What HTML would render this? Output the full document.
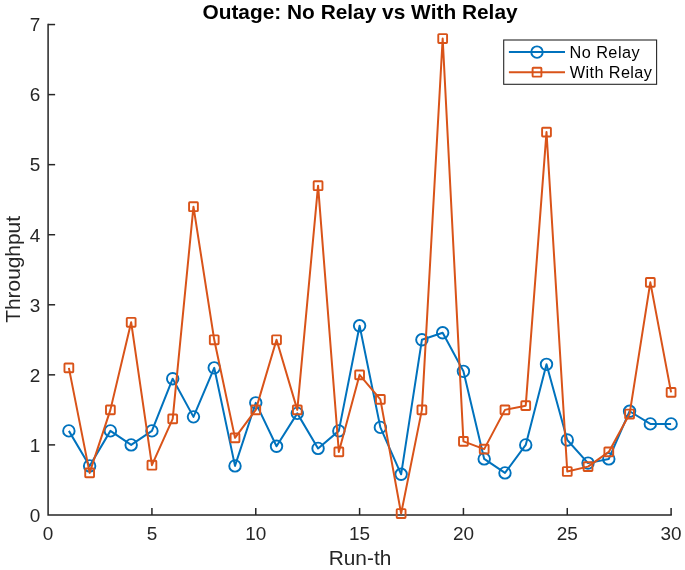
<!DOCTYPE html>
<html lang="en"><head><meta charset="utf-8"><title>Outage: No Relay vs With Relay</title>
<style>html,body{margin:0;padding:0;background:#fff}svg{display:block}text{font-family:"Liberation Sans",sans-serif;fill:#262626}</style></head><body>
<svg width="685" height="570" viewBox="0 0 685 570">
<rect width="685" height="570" fill="#fff"/>
<g stroke="#262626" stroke-width="1.50" fill="none">
<path d="M48.10 23.80 V514.95 H671.85"/>
<path d="M151.93 514.95 v-7.00"/>
<path d="M255.77 514.95 v-7.00"/>
<path d="M359.60 514.95 v-7.00"/>
<path d="M463.43 514.95 v-7.00"/>
<path d="M567.27 514.95 v-7.00"/>
<path d="M671.10 514.95 v-7.00"/>
<path d="M48.10 444.89 h7.00"/>
<path d="M48.10 374.84 h7.00"/>
<path d="M48.10 304.78 h7.00"/>
<path d="M48.10 234.72 h7.00"/>
<path d="M48.10 164.66 h7.00"/>
<path d="M48.10 94.61 h7.00"/>
<path d="M48.10 24.55 h7.00"/>
</g>
<text transform="translate(48.10 540.20) scale(1.035 1)" font-size="18.33" text-anchor="middle">0</text>
<text transform="translate(151.93 540.20) scale(1.035 1)" font-size="18.33" text-anchor="middle">5</text>
<text transform="translate(255.77 540.20) scale(1.035 1)" font-size="18.33" text-anchor="middle">10</text>
<text transform="translate(359.60 540.20) scale(1.035 1)" font-size="18.33" text-anchor="middle">15</text>
<text transform="translate(463.43 540.20) scale(1.035 1)" font-size="18.33" text-anchor="middle">20</text>
<text transform="translate(567.27 540.20) scale(1.035 1)" font-size="18.33" text-anchor="middle">25</text>
<text transform="translate(671.10 540.20) scale(1.035 1)" font-size="18.33" text-anchor="middle">30</text>
<text transform="translate(40.20 521.75) scale(1.035 1)" font-size="18.33" text-anchor="end">0</text>
<text transform="translate(40.20 451.69) scale(1.035 1)" font-size="18.33" text-anchor="end">1</text>
<text transform="translate(40.20 381.64) scale(1.035 1)" font-size="18.33" text-anchor="end">2</text>
<text transform="translate(40.20 311.58) scale(1.035 1)" font-size="18.33" text-anchor="end">3</text>
<text transform="translate(40.20 241.52) scale(1.035 1)" font-size="18.33" text-anchor="end">4</text>
<text transform="translate(40.20 171.46) scale(1.035 1)" font-size="18.33" text-anchor="end">5</text>
<text transform="translate(40.20 101.41) scale(1.035 1)" font-size="18.33" text-anchor="end">6</text>
<text transform="translate(40.20 31.35) scale(1.035 1)" font-size="18.33" text-anchor="end">7</text>
<text transform="translate(360.00 565.20) scale(1.035 1)" font-size="20.17" text-anchor="middle">Run-th</text>
<text transform="translate(19.80 269.40) rotate(-90) scale(1.035 1)" font-size="20.17" text-anchor="middle">Throughput</text>
<text transform="translate(360.00 18.90) scale(1.035 1)" font-size="20.17" text-anchor="middle" font-weight="bold" style="fill:#000">Outage: No Relay vs With Relay</text>
<g stroke="#0072BD" fill="none" stroke-linejoin="round">
<polyline points="68.87,430.88 89.63,465.91 110.40,430.88 131.17,444.89 151.93,430.88 172.70,378.69 193.47,416.87 214.23,367.83 235.00,465.91 255.77,402.86 276.53,446.29 297.30,413.37 318.07,448.40 338.83,430.88 359.60,325.80 380.37,427.38 401.13,474.32 421.90,339.81 442.67,332.80 463.43,371.33 484.20,458.90 504.97,472.92 525.73,444.89 546.50,364.33 567.27,439.99 588.03,463.11 608.80,458.90 629.57,411.27 650.33,423.88 671.10,423.88" stroke-width="2.00"/>
<g stroke-width="1.90">
<circle cx="68.87" cy="430.88" r="5.75"/>
<circle cx="89.63" cy="465.91" r="5.75"/>
<circle cx="110.40" cy="430.88" r="5.75"/>
<circle cx="131.17" cy="444.89" r="5.75"/>
<circle cx="151.93" cy="430.88" r="5.75"/>
<circle cx="172.70" cy="378.69" r="5.75"/>
<circle cx="193.47" cy="416.87" r="5.75"/>
<circle cx="214.23" cy="367.83" r="5.75"/>
<circle cx="235.00" cy="465.91" r="5.75"/>
<circle cx="255.77" cy="402.86" r="5.75"/>
<circle cx="276.53" cy="446.29" r="5.75"/>
<circle cx="297.30" cy="413.37" r="5.75"/>
<circle cx="318.07" cy="448.40" r="5.75"/>
<circle cx="338.83" cy="430.88" r="5.75"/>
<circle cx="359.60" cy="325.80" r="5.75"/>
<circle cx="380.37" cy="427.38" r="5.75"/>
<circle cx="401.13" cy="474.32" r="5.75"/>
<circle cx="421.90" cy="339.81" r="5.75"/>
<circle cx="442.67" cy="332.80" r="5.75"/>
<circle cx="463.43" cy="371.33" r="5.75"/>
<circle cx="484.20" cy="458.90" r="5.75"/>
<circle cx="504.97" cy="472.92" r="5.75"/>
<circle cx="525.73" cy="444.89" r="5.75"/>
<circle cx="546.50" cy="364.33" r="5.75"/>
<circle cx="567.27" cy="439.99" r="5.75"/>
<circle cx="588.03" cy="463.11" r="5.75"/>
<circle cx="608.80" cy="458.90" r="5.75"/>
<circle cx="629.57" cy="411.27" r="5.75"/>
<circle cx="650.33" cy="423.88" r="5.75"/>
<circle cx="671.10" cy="423.88" r="5.75"/>
</g></g>
<g stroke="#D95319" fill="none" stroke-linejoin="round">
<polyline points="68.87,367.83 89.63,472.92 110.40,409.86 131.17,322.29 151.93,465.21 172.70,418.83 193.47,206.70 214.23,339.81 235.00,437.89 255.77,409.86 276.53,339.81 297.30,409.86 318.07,185.68 338.83,451.90 359.60,374.84 380.37,399.36 401.13,513.55 421.90,409.86 442.67,38.56 463.43,441.39 484.20,449.10 504.97,409.86 525.73,405.66 546.50,132.09 567.27,471.51 588.03,466.61 608.80,451.90 629.57,414.07 650.33,282.36 671.10,392.35" stroke-width="2.00"/>
<g stroke-width="1.90">
<rect x="64.47" y="363.43" width="8.80" height="8.80" rx="0.7"/>
<rect x="85.23" y="468.52" width="8.80" height="8.80" rx="0.7"/>
<rect x="106.00" y="405.46" width="8.80" height="8.80" rx="0.7"/>
<rect x="126.77" y="317.89" width="8.80" height="8.80" rx="0.7"/>
<rect x="147.53" y="460.81" width="8.80" height="8.80" rx="0.7"/>
<rect x="168.30" y="414.43" width="8.80" height="8.80" rx="0.7"/>
<rect x="189.07" y="202.30" width="8.80" height="8.80" rx="0.7"/>
<rect x="209.83" y="335.41" width="8.80" height="8.80" rx="0.7"/>
<rect x="230.60" y="433.49" width="8.80" height="8.80" rx="0.7"/>
<rect x="251.37" y="405.46" width="8.80" height="8.80" rx="0.7"/>
<rect x="272.13" y="335.41" width="8.80" height="8.80" rx="0.7"/>
<rect x="292.90" y="405.46" width="8.80" height="8.80" rx="0.7"/>
<rect x="313.67" y="181.28" width="8.80" height="8.80" rx="0.7"/>
<rect x="334.43" y="447.50" width="8.80" height="8.80" rx="0.7"/>
<rect x="355.20" y="370.44" width="8.80" height="8.80" rx="0.7"/>
<rect x="375.97" y="394.96" width="8.80" height="8.80" rx="0.7"/>
<rect x="396.73" y="509.15" width="8.80" height="8.80" rx="0.7"/>
<rect x="417.50" y="405.46" width="8.80" height="8.80" rx="0.7"/>
<rect x="438.27" y="34.16" width="8.80" height="8.80" rx="0.7"/>
<rect x="459.03" y="436.99" width="8.80" height="8.80" rx="0.7"/>
<rect x="479.80" y="444.70" width="8.80" height="8.80" rx="0.7"/>
<rect x="500.57" y="405.46" width="8.80" height="8.80" rx="0.7"/>
<rect x="521.33" y="401.26" width="8.80" height="8.80" rx="0.7"/>
<rect x="542.10" y="127.69" width="8.80" height="8.80" rx="0.7"/>
<rect x="562.87" y="467.11" width="8.80" height="8.80" rx="0.7"/>
<rect x="583.63" y="462.21" width="8.80" height="8.80" rx="0.7"/>
<rect x="604.40" y="447.50" width="8.80" height="8.80" rx="0.7"/>
<rect x="625.17" y="409.67" width="8.80" height="8.80" rx="0.7"/>
<rect x="645.93" y="277.96" width="8.80" height="8.80" rx="0.7"/>
<rect x="666.70" y="387.95" width="8.80" height="8.80" rx="0.7"/>
</g></g>
<rect x="503.7" y="40" width="152.9" height="44.3" fill="#fff" stroke="#262626" stroke-width="1.1"/>
<g fill="none" stroke-linejoin="round"><path d="M508.9 52.1H565" stroke="#0072BD" stroke-width="2.00"/><circle cx="537" cy="52.1" r="5.75" stroke="#0072BD" stroke-width="1.90"/>
<path d="M508.9 72.2H565" stroke="#D95319" stroke-width="2.00"/><rect x="532.60" y="67.80" width="8.80" height="8.80" rx="0.7" stroke="#D95319" stroke-width="1.90"/></g>
<text transform="translate(569.40 58.30) scale(1.035 1)" font-size="15.75" text-anchor="start" style="fill:#000;letter-spacing:0.45px">No Relay</text>
<text transform="translate(569.80 78.00) scale(1.035 1)" font-size="15.75" text-anchor="start" style="fill:#000;letter-spacing:0.36px">With Relay</text>
</svg></body></html>
